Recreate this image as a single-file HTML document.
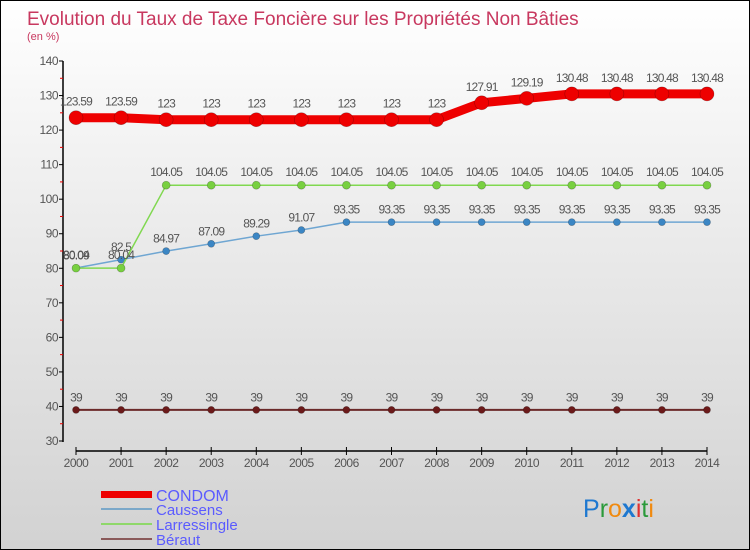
<!DOCTYPE html>
<html><head><meta charset="utf-8"><style>
body{margin:0;}
#wrap{position:relative;width:748px;height:548px;border:1px solid #000;background:linear-gradient(#ffffff 0%,#ececec 40%,#d2d2d2 100%);font-family:"Liberation Sans",sans-serif;overflow:hidden}
</style></head><body>
<div id="wrap">
<svg id="chart" width="748" height="548" style="position:absolute;left:0;top:0">
<text x="26" y="24" font-size="19" fill="#c8385f">Evolution du Taux de Taxe Foncière sur les Propriétés Non Bâties</text>
<text x="26" y="39" font-size="11" fill="#c8385f">(en %)</text>
<g id="axes"></g><g id="series"></g>
<g>
<rect x="100" y="490" width="51" height="7" fill="#ee0000"/>
<text x="155" y="500" font-size="16" fill="#5b5bff">CONDOM</text>
<rect x="100" y="507" width="51" height="2" fill="#7ba8c9"/>
<text x="155" y="514" font-size="15" fill="#5b5bff">Caussens</text>
<rect x="100" y="522" width="51" height="2" fill="#8fd86a"/>
<text x="155" y="529" font-size="15" fill="#5b5bff">Larressingle</text>
<rect x="100" y="537" width="51" height="2" fill="#8a5a5a"/>
<text x="155" y="544" font-size="15" fill="#5b5bff">Béraut</text>
</g>
<text x="582" y="516" font-size="25"><tspan fill="#1e78d0">P</tspan><tspan fill="#2a9a3a">r</tspan><tspan fill="#f08a10">o</tspan><tspan fill="#1e78d0" font-weight="bold">x</tspan><tspan fill="#e03030">i</tspan><tspan fill="#2a9a3a">t</tspan><tspan fill="#f08a10">i</tspan></text>
</svg>
</div>
<script>
const years=[2000,2001,2002,2003,2004,2005,2006,2007,2008,2009,2010,2011,2012,2013,2014];
const yTicks=[30,40,50,60,70,80,90,100,110,120,130,140];
const condom=[123.59,123.59,123,123,123,123,123,123,123,127.91,129.19,130.48,130.48,130.48,130.48];
const caussens=[80.09,82.5,84.97,87.09,89.29,91.07,93.35,93.35,93.35,93.35,93.35,93.35,93.35,93.35,93.35];
const larressingle=[80.04,80.04,104.05,104.05,104.05,104.05,104.05,104.05,104.05,104.05,104.05,104.05,104.05,104.05,104.05];
const beraut=[39,39,39,39,39,39,39,39,39,39,39,39,39,39,39];
const NS="http://www.w3.org/2000/svg";
const xS=i=>75+i*(631/14);
const yS=v=>440-(v-30)*3.4545;
function mk(t,a,p){const e=document.createElementNS(NS,t);for(const k in a)e.setAttribute(k,a[k]);p.appendChild(e);return e;}
const ax=document.getElementById('axes');
let yl=mk('line',{x1:62,y1:60,x2:62,y2:441,stroke:'#000','stroke-width':1.5},ax);


yTicks.forEach(v=>{
  mk('line',{x1:58,y1:yS(v),x2:62,y2:yS(v),stroke:'#000'},ax);
  if(v<140){mk('line',{x1:59,y1:yS(v+5),x2:62,y2:yS(v+5),stroke:'#e00'},ax);}
  const t=mk('text',{x:57,y:yS(v)+4,'font-size':12,fill:'#555','text-anchor':'end','letter-spacing':'-0.5'},ax);
  t.textContent=v;
  
  
});
let xl=mk('line',{x1:xS(0),y1:450,x2:xS(14),y2:450,stroke:'#000','stroke-width':1.5},ax);


years.forEach((y,i)=>{
  mk('line',{x1:xS(i),y1:446,x2:xS(i),y2:454,stroke:'#000'},ax);
  const t=mk('text',{x:xS(i),y:466,'font-size':12,fill:'#555','text-anchor':'middle','letter-spacing':'-0.5'},ax);
  t.textContent=y;
  
  
});
const sg=document.getElementById('series');
function series(name,vals,color,w,r,fill){
  const g=mk('g',{},sg);
  
  
  const pl=mk('polyline',{points:vals.map((v,i)=>xS(i)+','+yS(v)).join(' '),fill:'none',stroke:color,'stroke-width':w},g);
  
  
  vals.forEach((v,i)=>{
    const c=mk('circle',{cx:xS(i),cy:yS(v),r:r,fill:fill,stroke:'rgba(0,0,0,0.3)','stroke-width':0.6},g);
    
    
    const t=mk('text',{x:xS(i),y:yS(v)-(r+5),'font-size':12,fill:'#555','text-anchor':'middle','letter-spacing':'-0.8'},g);
    t.textContent=v;
    
    
  });
}
series('beraut',beraut,'#6b2a2a',2,3.5,'#6b1a1a');
series('caussens',caussens,'#6fa6d2',1.5,3.5,'#3b86c4');
series('larressingle',larressingle,'#80d850',1.5,4,'#78d040');
series('condom',condom,'#ee0000',9,7,'#ee0000');
</script>
</body></html>
